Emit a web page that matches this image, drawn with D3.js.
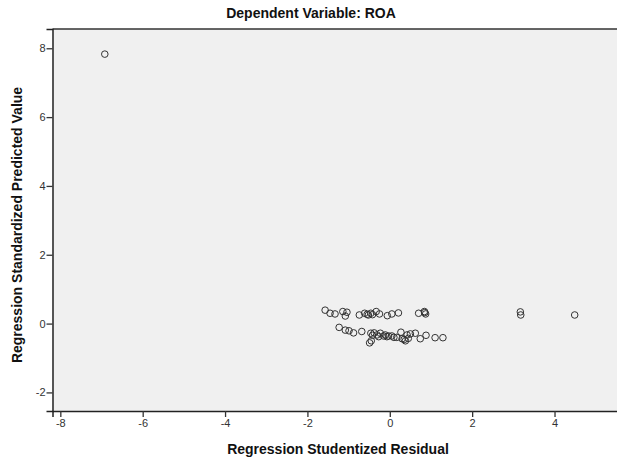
<!DOCTYPE html>
<html>
<head>
<meta charset="utf-8">
<script src="https://cdn.jsdelivr.net/npm/d3@7"></script>
<style>
  body { margin: 0; background: #fff; }
  svg { display: block; font-family: Arial, "Liberation Sans", sans-serif; }
</style>
</head>
<body>
<svg id="chart" width="617" height="463"></svg>
<script>
// Studentized residuals (x) and standardized predicted values (y)
var residuals = [
    -6.92, 3.17, 3.18, 4.49,
    -1.57, -1.45, -1.33, -1.14, -1.04, -1.08, -0.74, -0.61, -0.55, -0.52, -0.46, -0.42,
    -0.33, -0.25, -0.06, 0.05, 0.21, 0.70, 0.84, 0.87, 0.85,
    -1.23, -1.08, -0.99, -0.88, -0.68, -0.49, -0.46, -0.42, -0.38, -0.31, -0.27, -0.23,
    -0.15, -0.11, -0.07, -0.03, 0.05, 0.10, 0.17, 0.27, 0.30, 0.35, 0.38, 0.42, 0.45,
    0.50, 0.62, 0.74, 0.88, 1.10, 1.29, -0.45
];
var predicted = [
    7.83, 0.34, 0.25, 0.25,
    0.39, 0.30, 0.28, 0.35, 0.33, 0.22, 0.25, 0.30, 0.27, 0.25, 0.30, 0.26,
    0.35, 0.28, 0.23, 0.28, 0.31, 0.30, 0.35, 0.28, 0.32,
    -0.11, -0.19, -0.21, -0.27, -0.23, -0.56, -0.28, -0.34, -0.27, -0.33, -0.38, -0.28,
    -0.36, -0.33, -0.38, -0.36, -0.36, -0.40, -0.40, -0.25, -0.44, -0.46, -0.50, -0.33, -0.43,
    -0.30, -0.28, -0.44, -0.34, -0.41, -0.41, -0.50
];
var xTicks = [-8, -6, -4, -2, 0, 2, 4];
var yTicks = [-2, 0, 2, 4, 6, 8];

var svg = d3.select('#chart');

// plot frame (right edge runs off the picture, as in the original)
var plotLeft = 52.5, plotRight = 620, plotTop = 29, plotBottom = 411;

var x = d3.scaleLinear().domain([-8.19, 5.59]).range([plotLeft, plotRight]);
var y = d3.scaleLinear().domain([-2.54, 8.56]).range([plotBottom, plotTop]);

// plot background
svg.append('rect')
    .attr('x', plotLeft).attr('y', plotTop)
    .attr('width', plotRight - plotLeft).attr('height', plotBottom - plotTop)
    .attr('fill', '#f0f0f0');

// top border
svg.append('line')
    .attr('x1', plotLeft).attr('x2', plotRight)
    .attr('y1', plotTop).attr('y2', plotTop)
    .attr('stroke', '#333').attr('stroke-width', 1.5);

// axes
var xAxis = svg.append('g')
    .attr('transform', 'translate(0,' + plotBottom + ')')
    .call(d3.axisBottom(x).tickValues(xTicks).tickSize(6).tickPadding(2));
var yAxis = svg.append('g')
    .attr('transform', 'translate(' + plotLeft + ',0)')
    .call(d3.axisLeft(y).tickValues(yTicks).tickSize(6).tickPadding(1));

[xAxis, yAxis].forEach(function(ax) {
    ax.select('.domain').attr('stroke', '#222').attr('stroke-width', 1.5);
    ax.selectAll('.tick line').attr('stroke', '#333').attr('stroke-width', 1.3);
    ax.selectAll('.tick text')
        .attr('fill', '#333')
        .style('font-size', '11px')
        .style('font-family', 'Arial, "Liberation Sans", sans-serif')
        // d3 uses a unicode minus; the picture has a hyphen
        .text(function(d) { return String(d); });
});

// points
svg.append('g').selectAll('circle')
    .data(residuals)
    .join('circle')
    .attr('cx', function(d) { return x(d); })
    .attr('cy', function(d, i) { return y(predicted[i]); })
    .attr('r', 3.3)
    .attr('fill', 'none')
    .attr('stroke', '#333')
    .attr('stroke-width', 1);

// titles
svg.append('text')
    .attr('x', 311).attr('y', 18)
    .attr('text-anchor', 'middle')
    .style('font-size', '14px').style('font-weight', 'bold')
    .attr('fill', '#111')
    .text('Dependent Variable: ROA');

svg.append('text')
    .attr('x', 338).attr('y', 454)
    .attr('text-anchor', 'middle')
    .style('font-size', '14px').style('font-weight', 'bold')
    .attr('fill', '#111')
    .text('Regression Studentized Residual');

svg.append('text')
    .attr('transform', 'translate(22,225) rotate(-90)')
    .attr('text-anchor', 'middle')
    .style('font-size', '14px').style('font-weight', 'bold')
    .attr('fill', '#111')
    .text('Regression Standardized Predicted Value');
</script>
</body>
</html>
